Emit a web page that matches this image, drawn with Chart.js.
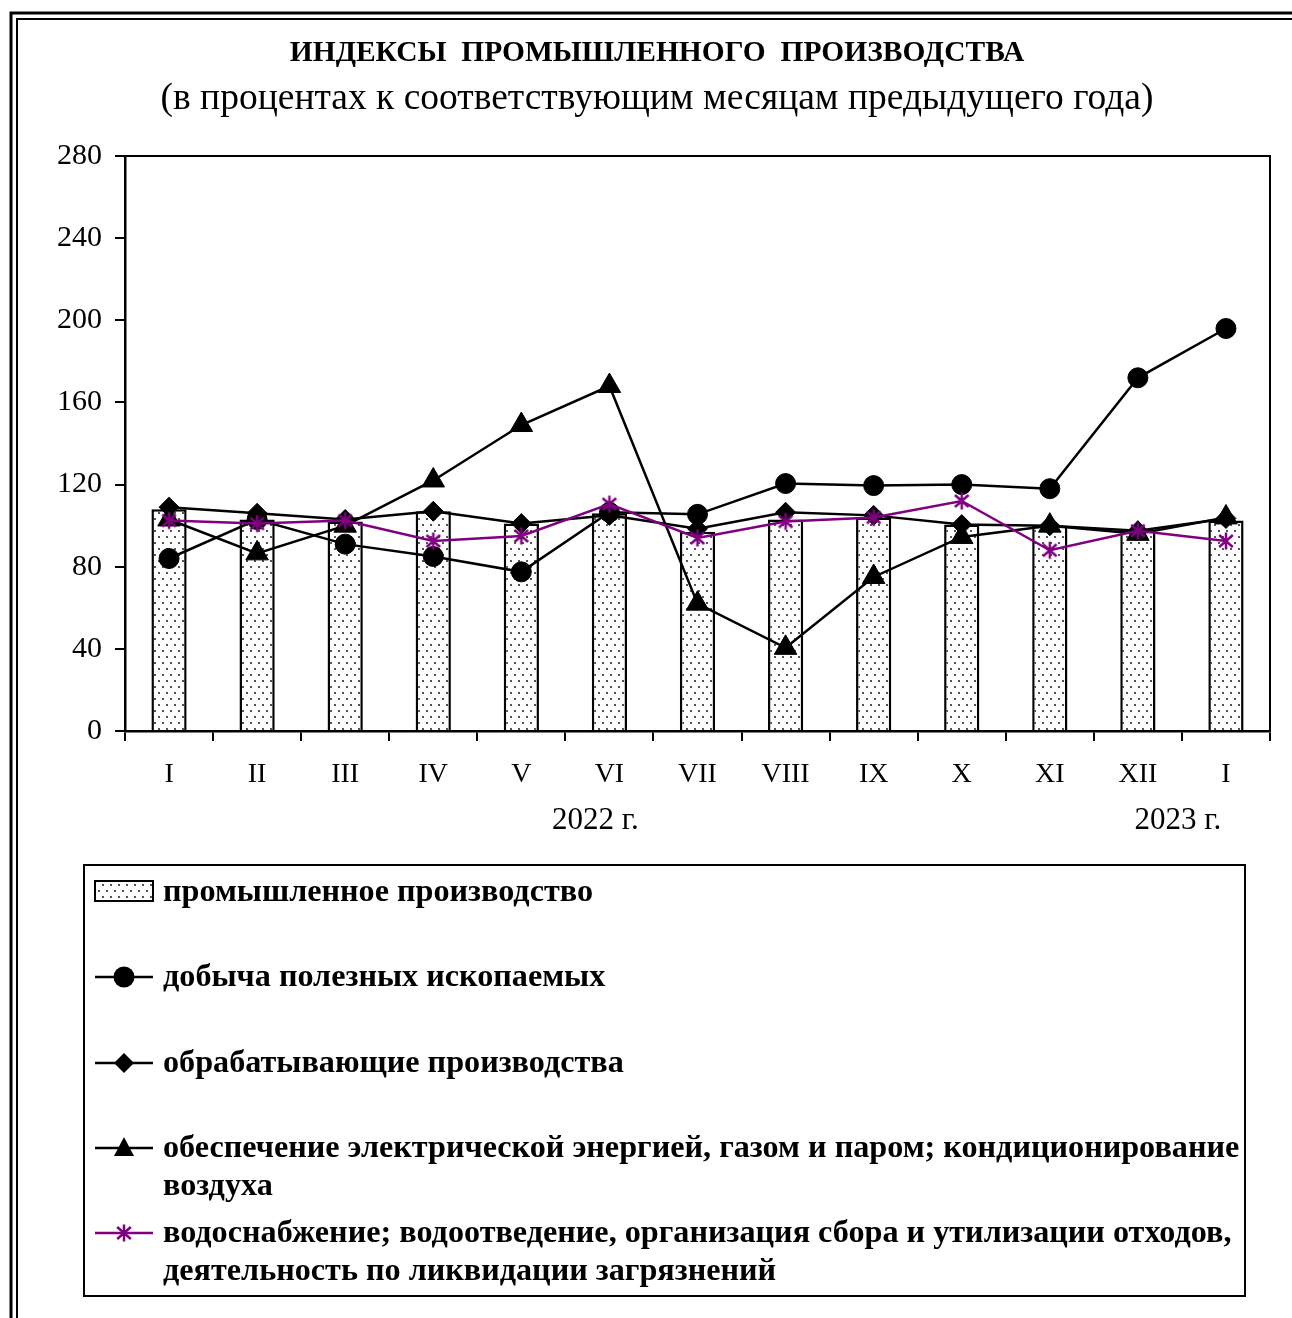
<!DOCTYPE html>
<html lang="ru">
<head>
<meta charset="utf-8">
<title>Индексы промышленного производства</title>
<script src="https://cdn.jsdelivr.net/npm/chart.js@4.4.1/dist/chart.umd.min.js"></script>
<style>
  html, body { margin: 0; padding: 0; background: #fff; }
  #chart { display: block; }
</style>
</head>
<body>
<canvas id="chart" width="1292" height="1318"></canvas>
<script>
// months of 2022 plus January 2023
const months = ["I", "II", "III", "IV", "V", "VI", "VII", "VIII", "IX", "X", "XI", "XII", "I"];
const industry = [108, 103, 102, 107, 101, 106, 97, 103, 104, 100.5, 100, 98, 102.5];
const mining = [84, 103, 91, 85, 77.5, 106.5, 105.5, 120.5, 119.5, 120, 118, 172, 196];
const manufacturing = [109, 106, 103, 107, 101, 105, 98.5, 106.5, 105, 100.5, 100, 97.5, 103.5];
const energy = [103, 86.5, 100, 122, 149, 168, 62, 40.5, 75, 94.5, 100, 96, 104];
const water = [102.5, 101, 102.5, 92.5, 95, 110.5, 94, 102, 104, 112, 88, 97.5, 92.5];

const yTicks = [0, 40, 80, 120, 160, 200, 240, 280];
const yearLabels = ["2022 г.", "2023 г."];

const seriesNames = [
  "промышленное производство",
  "добыча полезных ископаемых",
  "обрабатывающие производства",
  "обеспечение электрической энергией, газом и паром; кондиционирование воздуха",
  "водоснабжение; водоотведение, организация сбора и утилизации отходов, деятельность по ликвидации загрязнений"
];

const PURPLE = "#800080";
const SERIF = "'Liberation Serif', 'Times New Roman', serif";

// dotted fill like the excel bars
function makeDots() {
  const c = document.createElement("canvas");
  c.width = 8; c.height = 12;
  const g = c.getContext("2d");
  g.fillStyle = "#fff";
  g.fillRect(0, 0, 8, 12);
  g.fillStyle = "#555";
  g.fillRect(2, 2, 2, 2);
  g.fillRect(6, 8, 2, 2);
  return c;
}

// asterisk marker: X plus a vertical stroke
function makeAsterisk(size) {
  const c = document.createElement("canvas");
  c.width = size; c.height = size;
  const g = c.getContext("2d");
  const m = size / 2, r = size / 2 - 1.5;
  g.strokeStyle = PURPLE;
  g.lineWidth = 2.5;
  g.beginPath();
  g.moveTo(m, m - r); g.lineTo(m, m + r);
  g.moveTo(m - r * 0.8, m - r * 0.7); g.lineTo(m + r * 0.8, m + r * 0.7);
  g.moveTo(m + r * 0.8, m - r * 0.7); g.lineTo(m - r * 0.8, m + r * 0.7);
  g.stroke();
  return c;
}

const ctx = document.getElementById("chart").getContext("2d");
const dots = ctx.createPattern(makeDots(), "repeat");
const asterisk = makeAsterisk(20);

function lineSet(label, data, style, radius, color, order) {
  return {
    type: "line",
    label: label,
    data: data,
    borderColor: color,
    borderWidth: 2.5,
    tension: 0,
    pointStyle: style,
    pointRadius: radius,
    pointHoverRadius: radius,
    pointBackgroundColor: color,
    pointBorderColor: color,
    pointBorderWidth: 1,
    order: order
  };
}

function drawMarker(g, kind, x, y) {
  g.fillStyle = "#000";
  g.beginPath();
  if (kind === "circle") {
    g.arc(x, y, 10.5, 0, Math.PI * 2);
  } else if (kind === "diamond") {
    g.moveTo(x, y - 10); g.lineTo(x + 10, y); g.lineTo(x, y + 10); g.lineTo(x - 10, y);
  } else if (kind === "triangle") {
    g.moveTo(x, y - 11); g.lineTo(x + 10, y + 8); g.lineTo(x - 10, y + 8);
  }
  g.closePath();
  g.fill();
}

const decor = {
  id: "decor",
  beforeDraw(chart) {
    const g = chart.ctx;
    g.save();
    g.fillStyle = "#fff";
    g.fillRect(0, 0, chart.width, chart.height);
    // double frame, open at right and bottom
    g.strokeStyle = "#000";
    g.lineWidth = 3;
    g.beginPath();
    g.moveTo(11, chart.height); g.lineTo(11, 13); g.lineTo(chart.width, 13);
    g.stroke();
    g.lineWidth = 2;
    g.beginPath();
    g.moveTo(17, chart.height); g.lineTo(17, 19); g.lineTo(chart.width, 19);
    g.stroke();

    g.fillStyle = "#000";
    g.textAlign = "center";
    g.textBaseline = "middle";
    g.font = "bold 29.5px " + SERIF;
    g.fillText("ИНДЕКСЫ  ПРОМЫШЛЕННОГО  ПРОИЗВОДСТВА", 657, 53);
    g.font = "37.5px " + SERIF;
    g.fillText("(в процентах к соответствующим месяцам предыдущего года)", 657, 99);
    g.restore();
  },
  afterDraw(chart) {
    const g = chart.ctx;
    const a = chart.chartArea;
    const x = chart.scales.x;
    g.save();
    // top and right sides of the plot box
    g.strokeStyle = "#000";
    g.lineWidth = 2;
    g.beginPath();
    g.moveTo(a.left - 10, a.top); g.lineTo(a.right, a.top); g.lineTo(a.right, a.bottom);
    g.stroke();

    // year captions under the month labels
    g.fillStyle = "#000";
    g.textAlign = "center";
    g.textBaseline = "middle";
    g.font = "31px " + SERIF;
    g.fillText(yearLabels[0], x.getPixelForValue(5) - 14, 821);
    g.fillText(yearLabels[1], x.getPixelForValue(12) - 48, 821);

    // legend box
    g.lineWidth = 2;
    g.strokeRect(84, 865, 1161, 431);
    g.font = "bold 32.2px " + SERIF;
    g.textAlign = "left";
    const tx = 163;
    const rows = [
      { kind: "bar", y: 892, lines: [seriesNames[0]] },
      { kind: "circle", y: 977, lines: [seriesNames[1]] },
      { kind: "diamond", y: 1063, lines: [seriesNames[2]] },
      { kind: "triangle", y: 1148, lines: ["обеспечение электрической энергией, газом и паром; кондиционирование", "воздуха"] },
      { kind: "star", y: 1233, lines: ["водоснабжение; водоотведение, организация сбора и утилизации отходов,", "деятельность по ликвидации загрязнений"] }
    ];
    rows.forEach(r => {
      if (r.kind === "bar") {
        g.fillStyle = dots;
        g.fillRect(95, 881, 58, 20);
        g.lineWidth = 2;
        g.strokeStyle = "#000";
        g.strokeRect(95, 881, 58, 20);
      } else {
        g.strokeStyle = r.kind === "star" ? PURPLE : "#000";
        g.lineWidth = 2.5;
        g.beginPath();
        g.moveTo(95, r.y); g.lineTo(153, r.y);
        g.stroke();
        if (r.kind === "star") {
          g.drawImage(asterisk, 124 - 10, r.y - 10);
        } else {
          drawMarker(g, r.kind, 124, r.y);
        }
      }
      g.fillStyle = "#000";
      r.lines.forEach((t, i) => g.fillText(t, tx, r.y + 1 + i * 38));
    });
    g.restore();
  }
};

new Chart(ctx, {
  data: {
    labels: months,
    datasets: [
      {
        type: "bar",
        label: seriesNames[0],
        data: industry,
        backgroundColor: dots,
        borderColor: "#000",
        borderWidth: 2.5,
        barPercentage: 0.4,
        categoryPercentage: 1,
        order: 10
      },
      lineSet(seriesNames[1], mining, "circle", 10, "#000", 4),
      lineSet(seriesNames[2], manufacturing, "rectRot", 10, "#000", 3),
      lineSet(seriesNames[3], energy, "triangle", 13, "#000", 2),
      lineSet(seriesNames[4], water, asterisk, 10, PURPLE, 1)
    ]
  },
  options: {
    responsive: false,
    animation: false,
    events: [],
    layout: { padding: { left: 0, top: 156, right: 22, bottom: 517 } },
    plugins: {
      legend: { display: false },
      title: { display: false },
      tooltip: { enabled: false }
    },
    scales: {
      x: {
        offset: true,
        grid: { offset: true, drawOnChartArea: false, tickLength: 10, color: "#000", lineWidth: 2 },
        border: { color: "#000", width: 2.5 },
        ticks: { color: "#000", font: { family: SERIF, size: 28 }, padding: 17, maxRotation: 0 },
        afterFit(s) { s.height = 70; }
      },
      y: {
        min: 0,
        max: 280,
        afterBuildTicks(s) { s.ticks = yTicks.map(v => ({ value: v })); },
        grid: { drawOnChartArea: false, tickLength: 10, color: "#000", lineWidth: 2 },
        border: { color: "#000", width: 2.5 },
        ticks: { color: "#000", font: { family: SERIF, size: 30 }, padding: 13 },
        afterFit(s) { s.width = 125; }
      }
    }
  },
  plugins: [decor]
});
</script>
</body>
</html>
